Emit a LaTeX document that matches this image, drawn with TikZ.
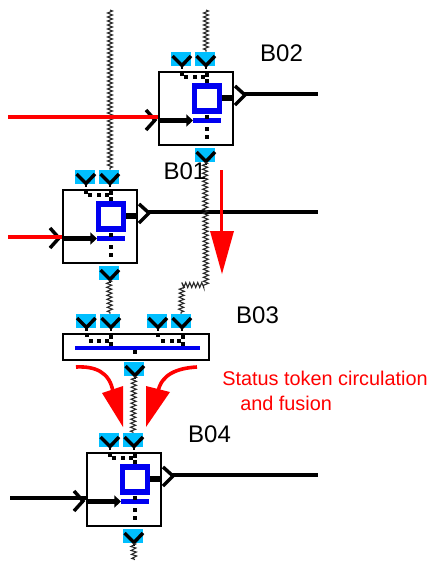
\documentclass[tikz,border=0pt]{standalone}
\usepackage{fontspec}
\setmainfont{Liberation Sans}
\usetikzlibrary{arrows.meta,decorations.pathmorphing,calc}
\definecolor{tokcyan}{HTML}{00BFFF}
\definecolor{tokblue}{HTML}{0000F0}
\definecolor{tokred}{HTML}{FF0000}
\tikzset{
  blockbox/.style={draw=black,line width=1.3pt,fill=white,inner sep=0pt,minimum width=55.5pt,minimum height=55pt,anchor=north west},
  chevbox/.style={fill=tokcyan,inner sep=0pt,minimum width=15pt,minimum height=10.5pt},
  vmark/.style={black,line width=2.6pt,line join=miter},
  gtmark/.style={black,line width=2.6pt},
  zig/.style={black!85,line width=.8pt,decorate,decoration={zigzag,amplitude=1.9pt,segment length=3pt}},
  ctrl/.style={black,line width=4.2pt,-{Triangle[length=5pt,width=9pt]}},
  stub/.style={black,line width=4.6pt},
  blueline/.style={tokblue,line width=3.7pt},
  redline/.style={tokred,line width=3.3pt},
  redbig/.style={tokred,line width=2.7pt},
  redhead/.style={fill=tokred,draw=none},
  outline/.style={black,line width=2.3pt},
  lab/.style={font=\fontsize{18}{20}\selectfont,inner sep=0pt},
  redtext/.style={text=tokred,font=\fontsize{14.9}{17}\selectfont,inner sep=0pt,anchor=west}
}
\newcommand{\sq}[2]{\fill[black] ($(#1,#2)+(-1.9,-1.9)$) rectangle ($(#1,#2)+(1.9,1.9)$);}
% chevron token: name, centre x, centre y
\newcommand{\tok}[3]{%
  \node[chevbox] (#1) at (#2,#3) {};
  \draw[vmark] ($(#1.center)+(-8.5,-3)$) -- ($(#1.center)+(1,6.5)$) -- ($(#1.center)+(10,-3)$);
  \draw[black,line width=1.6pt] ($(#1.center)+(1,6.5)$) -- ($(#1.center)+(1,10)$);
}
% block: name, x, y, end of output line
\newcommand{\block}[4]{%
  \node[blockbox] (#1) at (#2,#3) {};
  \tok{#1a}{#2+23}{#3-12}
  \tok{#1b}{#2+47}{#3-12}
  \tok{#1c}{#2+47}{#3+84}
  \node[draw=tokblue,line width=4.1pt,minimum size=19pt,inner sep=0pt,fill=white] (#1s) at (#2+49,#3+27.5) {};
  \coordinate (#1bars) at (#2+35,#3+49.5);
  \coordinate (#1bare) at (#2+63,#3+49.5);
  \draw[blueline] (#1bars) -- (#1bare);
  \sq{#2+24.3}{#3+3}\sq{#2+27.7}{#3+6.3}\sq{#2+37}{#3+6.3}\sq{#2+45.3}{#3+6.3}
  \sq{#2+48.7}{#3+4}\sq{#2+48.7}{#3+10}
  \sq{#2+48.7}{#3+46}\sq{#2+48.7}{#3+58}\sq{#2+48.7}{#3+66.3}
  \draw[ctrl] (#2+1,#3+49.5) -- (#1bars);
  \draw[stub] (#2+64,#3+27) -- (#2+74,#3+27);
  \draw[outline] (#2+86,#3+23) -- (#4,#3+23);
  \draw[gtmark] (#2+77,#3+15) -- (#2+87,#3+24) -- (#2+77,#3+34);
  \draw[gtmark] (#2-12,#3+39) -- (#2-3,#3+49) -- (#2-12,#3+59);
}
\begin{document}
\begin{tikzpicture}[x=.75pt,y=-.75pt]
\useasboundingbox (0,0) rectangle (433,562);
\fill[white] (0,0) rectangle (433,562);
\coordinate (t1) at (110,10);
\coordinate (t2) at (206,10);
\coordinate (t3) at (134.5,560);
\coordinate (k1) at (206,285);
\coordinate (k2) at (182,285);

\block{bb}{158}{71}{318}
\block{ba}{62}{189}{318}
\block{bd}{86}{452}{318}

% B03 bar
\node[blockbox,minimum width=109.5pt,minimum height=19.5pt] (bc) at (62,333) {};
\tok{bcp}{85.5}{321}
\tok{bcq}{110}{321}
\tok{bcr}{157}{321}
\tok{bcs}{181}{321}
\tok{bcu}{134}{369}
\coordinate (cbl) at (75,348);
\coordinate (cbr) at (200,348);
\draw[blueline] (cbl) -- (cbr);
\sq{86.7}{335}\sq{90.7}{340.7}\sq{99.3}{340.7}\sq{107.3}{340.7}\sq{111}{336.7}\sq{111}{344}
\sq{158.3}{335}\sq{162.7}{340.7}\sq{171.7}{340.7}\sq{179.3}{340.7}\sq{182.7}{336.7}\sq{182.7}{344}
\sq{135}{351.7}

% status line connectors
\draw[zig] (t1) -- (bab.north -| t1);
\draw[zig] (t2) -- (bbb.north -| t2);
\draw[zig] (bbc.south) -- (k1) -- (k2) -- (bcs.north);
\draw[zig] (bac.south) -- (bcq.north);
\draw[zig] (bcu.south) -- (bdb.north);
\draw[zig] (bdc.south) -- (t3);

% inputs
\coordinate (r1) at (8,117);
\coordinate (r2) at (8,237);
\coordinate (r3) at (10,498);
\draw[redline] (r1) -- (r1 -| bb.west);
\draw[redline] (r2) -- (r2 -| ba.west);
\draw[outline,line width=2.5pt] (r3) -- (r3 -| bd.west);

% red arrows
\coordinate (a1) at (221.5,170);
\coordinate (a2) at (221.5,232);
\draw[redbig] (a1) -- (a2);
\fill[redhead] (210,231) -- (234,231) -- (222,274) -- cycle;
\coordinate (c1) at (76,367);
\coordinate (c2) at (113,392);
\draw[redbig] (c1) .. controls (95,366) and (110,372) .. (c2);
\fill[redhead] (102,393) -- (123,386) -- (123,427) -- cycle;
\coordinate (d1) at (197,367);
\coordinate (d2) at (158,392);
\draw[redbig] (d1) .. controls (178,368) and (161,374) .. (d2);
\fill[redhead] (146,386) -- (170,392) -- (146,427) -- cycle;

% labels
\node[lab] (lb2) at (281.5,53) {B02};
\node[lab] (lb1) at (185,171) {B01};
\node[lab] (lb3) at (257.5,315) {B03};
\node[lab] (lb4) at (209.5,434) {B04};
\node[redtext] (s1) at (222,378) {Status token circulation};
\node[redtext] (s2) at (240,403) {and fusion};
\end{tikzpicture}
\end{document}
